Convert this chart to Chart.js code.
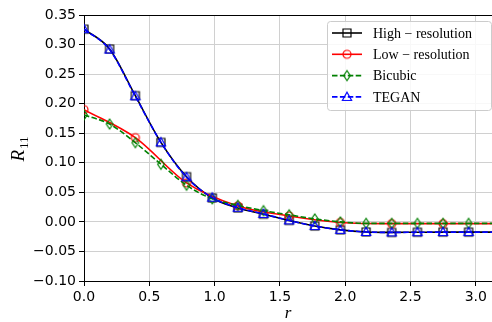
<!DOCTYPE html>
<html>
<head>
<meta charset="utf-8">
<script src="https://cdn.jsdelivr.net/npm/chart.js@4.4.1/dist/chart.umd.min.js"></script>
<style>
html, body { margin: 0; padding: 0; background: #fff; }
canvas { display: block; }
</style>
</head>
<body>
<canvas id="chart" width="492" height="322"></canvas>
<script>
// r positions (pi/16 steps) and R11 values
var radii    = [0, 0.196, 0.393, 0.589, 0.785, 0.982, 1.178, 1.374, 1.571, 1.767, 1.963, 2.160, 2.356, 2.553, 2.749, 2.945, 3.142];
var lowRadii = [0, 0.393, 0.785, 1.178, 1.571, 1.963, 2.356, 2.749, 3.142];
var highRes  = [0.326, 0.2925, 0.2135, 0.1345, 0.0765, 0.0405, 0.0235, 0.013, 0.0025, -0.007, -0.0135, -0.0170, -0.0178, -0.0175, -0.0173, -0.0173, -0.0173];
var lowRes   = [0.190, 0.1425, 0.066, 0.027, 0.010, -0.001, -0.003, -0.003, -0.003];
var bicubic  = [0.181, 0.1655, 0.134, 0.0975, 0.062, 0.039, 0.028, 0.019, 0.012, 0.005, 0.000, -0.0025, -0.0025, -0.0025, -0.0025, -0.0025, -0.0025];
var tegan    = [0.326, 0.2915, 0.2125, 0.1345, 0.0755, 0.041, 0.024, 0.0135, 0.0025, -0.007, -0.0135, -0.017, -0.0178, -0.0175, -0.0173, -0.0173, -0.0173];
var seriesNames = ['High \u2212 resolution', 'Low \u2212 resolution', 'Bicubic', 'TEGAN'];
var xTicks = [0, 0.5, 1.0, 1.5, 2.0, 2.5, 3.0];

function toPoints(xs, ys) {
    var pts = [];
    for (var i = 0; i < ys.length; i++) pts.push({x: xs[i], y: ys[i]});
    return pts;
}

// open markers like matplotlib's s, o, d, ^
function makeMarker(shape, color) {
    var c = document.createElement('canvas');
    c.width = 14; c.height = 14;
    var g = c.getContext('2d');
    g.strokeStyle = color;
    g.lineWidth = 1.2;
    g.beginPath();
    if (shape == 'square') g.rect(3, 3, 8, 8);
    else if (shape == 'circle') g.arc(7, 7, 4, 0, Math.PI * 2);
    else if (shape == 'diamond') { g.moveTo(7, 2); g.lineTo(10.3, 7); g.lineTo(7, 12); g.lineTo(3.7, 7); g.closePath(); }
    else { g.moveTo(7, 2.2); g.lineTo(11.6, 10.5); g.lineTo(2.4, 10.5); g.closePath(); }
    g.stroke();
    return c;
}

var markers = [
    makeMarker('square', '#000000'),
    makeMarker('circle', '#ff0000'),
    makeMarker('diamond', '#008000'),
    makeMarker('triangle', '#0000ff')
];

function makeSet(i, xs, ys, color, dash, order) {
    return {
        label: seriesNames[i],
        data: toPoints(xs, ys),
        borderColor: color,
        backgroundColor: color,
        borderWidth: 1.6,
        borderDash: dash,
        pointStyle: markers[i],
        pointRadius: function(ctx) { return ctx.dataIndex == xs.length - 1 ? 0 : 5; },
        cubicInterpolationMode: 'monotone',
        order: order
    };
}

var legendBox = {
    id: 'legendBox',
    afterDraw: function(chart) {
        var ctx = chart.ctx, a = chart.chartArea;
        var x = a.right - 165, y = a.top + 6, w = 164, h = 89;
        ctx.save();
        ctx.beginPath();
        ctx.roundRect(x + 0.5, y + 0.5, w, h, 3);
        ctx.fillStyle = 'rgba(255,255,255,0.85)';
        ctx.fill();
        ctx.strokeStyle = '#cccccc';
        ctx.lineWidth = 1;
        ctx.stroke();
        ctx.font = '14px "Liberation Serif"';
        ctx.textBaseline = 'middle';
        chart.data.datasets.forEach(function(ds, i) {
            var ry = y + 12 + i * 21.3;
            ctx.beginPath();
            ctx.setLineDash(ds.borderDash);
            ctx.strokeStyle = ds.borderColor;
            ctx.lineWidth = 1.6;
            ctx.moveTo(x + 5, ry);
            ctx.lineTo(x + 35, ry);
            ctx.stroke();
            ctx.setLineDash([]);
            ctx.drawImage(markers[i], x + 20 - 7, ry - 7);
            ctx.fillStyle = '#000';
            ctx.fillText(ds.label, x + 46, ry + 1);
        });
        ctx.restore();
    }
};

var axisTitles = {
    id: 'axisTitles',
    afterDraw: function(chart) {
        var ctx = chart.ctx, a = chart.chartArea;
        ctx.save();
        // top spine
        ctx.beginPath();
        ctx.strokeStyle = '#000';
        ctx.lineWidth = 1;
        ctx.moveTo(a.left, a.top + 0.5);
        ctx.lineTo(a.right, a.top + 0.5);
        ctx.stroke();
        ctx.fillStyle = '#000';
        ctx.textBaseline = 'alphabetic';
        ctx.textAlign = 'center';
        ctx.font = 'italic 17px "Liberation Serif"';
        ctx.fillText('r', (a.left + a.right) / 2, 318);
        // y title R_11, rotated
        ctx.translate(24, (a.top + a.bottom) / 2 + 1);
        ctx.rotate(-Math.PI / 2);
        ctx.textAlign = 'left';
        ctx.font = 'italic 19px "Liberation Serif"';
        var rw = ctx.measureText('R').width;
        ctx.font = '13px "Liberation Serif"';
        var sw = ctx.measureText('11').width;
        var x0 = -(rw + sw + 1) / 2;
        ctx.font = 'italic 19px "Liberation Serif"';
        ctx.fillText('R', x0, 0);
        ctx.font = '13px "Liberation Serif"';
        ctx.fillText('11', x0 + rw + 1, 4);
        ctx.restore();
    }
};

function fmtY(v) {
    var r = Math.round(v * 100) / 100;
    return (r < 0 ? '\u2212' : '') + Math.abs(r).toFixed(2);
}

new Chart(document.getElementById('chart'), {
    type: 'line',
    data: {
        datasets: [
            makeSet(0, radii, highRes, '#000000', [], 3),
            makeSet(1, lowRadii, lowRes, '#ff0000', [], 2),
            makeSet(2, radii, bicubic, '#008000', [5.5, 2.4], 1),
            makeSet(3, radii, tegan, '#0000ff', [5.5, 2.4], 0)
        ]
    },
    options: {
        responsive: false,
        animation: false,
        devicePixelRatio: 1,
        layout: { autoPadding: false, padding: { top: 15, right: 0, left: 0, bottom: 0 } },
        plugins: { legend: { display: false }, tooltip: { enabled: false } },
        scales: {
            x: {
                type: 'linear',
                min: 0,
                max: 3.124,
                afterBuildTicks: function(scale) {
                    scale.ticks = xTicks.map(function(v) { return {value: v}; });
                },
                afterFit: function(scale) {
                    scale.height = 41;
                    scale.paddingLeft = 0;
                    scale.paddingRight = 0;
                },
                ticks: {
                    padding: 3,
                    color: '#000',
                    maxRotation: 0,
                    autoSkip: false,
                    font: { family: 'DejaVu Sans', size: 14 },
                    callback: function(v) { return Number(v).toFixed(1); }
                },
                grid: { color: '#d0d0d0', lineWidth: 1, tickColor: '#000', tickLength: 5 },
                border: { color: '#000', width: 1 }
            },
            y: {
                min: -0.1,
                max: 0.35,
                afterFit: function(scale) {
                    scale.width = 84;
                    scale.paddingTop = 0;
                    scale.paddingBottom = 0;
                },
                ticks: {
                    stepSize: 0.05,
                    padding: 3,
                    color: '#000',
                    font: { family: 'DejaVu Sans', size: 14 },
                    callback: fmtY
                },
                grid: { color: '#d0d0d0', lineWidth: 1, tickColor: '#000', tickLength: 5 },
                border: { color: '#000', width: 1 }
            }
        }
    },
    plugins: [legendBox, axisTitles]
});
</script>
</body>
</html>
